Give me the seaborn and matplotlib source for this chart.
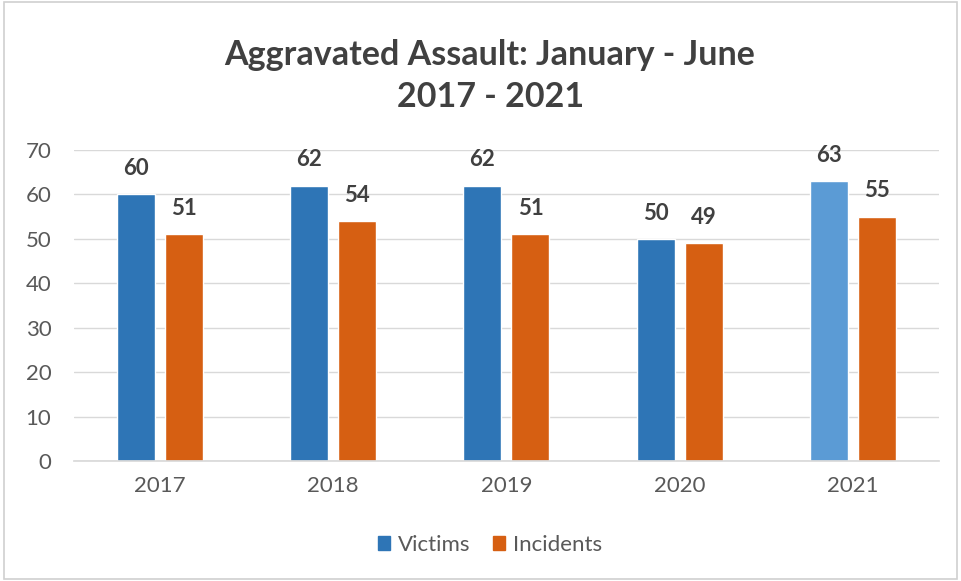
import matplotlib
matplotlib.use("Agg")
import matplotlib.pyplot as plt
import seaborn as sns
import pandas as pd
from matplotlib.patches import Rectangle

years = ["2017", "2018", "2019", "2020", "2021"]
victims = [60, 62, 62, 50, 63]
incidents = [51, 54, 51, 49, 55]
series = ["Victims", "Incidents"]
y_ticks = [0, 10, 20, 30, 40, 50, 60, 70]

df = pd.DataFrame({
    "Year": years * 2,
    "Count": victims + incidents,
    "Series": [series[0]] * len(years) + [series[1]] * len(years),
})

sns.set_theme(style="white")
plt.rcParams["font.family"] = ["Lato", "DejaVu Sans"]

blue = "#2E75B6"
light_blue = "#5B9BD5"
orange = "#D65F12"
text_grey = "#595959"
dark = "#404040"

fig = plt.figure(figsize=(9.61, 5.81), dpi=100)
ax = fig.add_axes([0.0765, 0.2065, 0.901, 0.5353])

sns.barplot(data=df, x="Year", y="Count", hue="Series", order=years,
            hue_order=series, palette=[blue, orange], width=0.555, gap=0.21,
            ax=ax, legend=False, saturation=1)

# the latest year's victims bar is drawn in a lighter blue
victim_bars = ax.patches[:len(years)]
victim_bars[-1].set_facecolor(light_blue)

for cont in ax.containers:
    ax.bar_label(cont, labels=[f"{int(v)}" for v in cont.datavalues],
                 padding=11, fontsize=16, fontweight="bold", color=dark)

ax.set_ylim(0, 70)
ax.set_xlim(-0.5, len(years) - 0.5)
ax.set_yticks(y_ticks)
ax.yaxis.grid(True, color="#D9D9D9", linewidth=1)
ax.set_axisbelow(True)
for s in ["top", "right", "left"]:
    ax.spines[s].set_visible(False)
ax.spines["bottom"].set_color("#D9D9D9")
ax.tick_params(axis="both", length=0, labelsize=16, labelcolor=text_grey)
ax.tick_params(axis="y", pad=16)
ax.tick_params(axis="x", pad=11)
ax.set_xlabel("")
ax.set_ylabel("")

fig.text(0.51, 0.905, "Aggravated Assault: January - June", ha="center",
         va="center", fontsize=24.5, fontweight="bold", color=dark)
fig.text(0.51, 0.833, "2017 - 2021", ha="center", va="center",
         fontsize=24.5, fontweight="bold", color=dark)

handles = [Rectangle((0, 0), 1, 1, color=blue), Rectangle((0, 0), 1, 1, color=orange)]
fig.legend(handles, series, loc="center", bbox_to_anchor=(0.51, 0.062),
           ncol=2, frameon=False, fontsize=16, labelcolor=text_grey,
           handlelength=0.55, handleheight=0.55, handletextpad=0.35,
           columnspacing=1.0)

fig.patches.append(Rectangle((0.004, 0.004), 0.992, 0.992, transform=fig.transFigure,
                             fill=False, edgecolor="#D0D0D0", linewidth=1.2))

fig.savefig("out.png", dpi=100)
